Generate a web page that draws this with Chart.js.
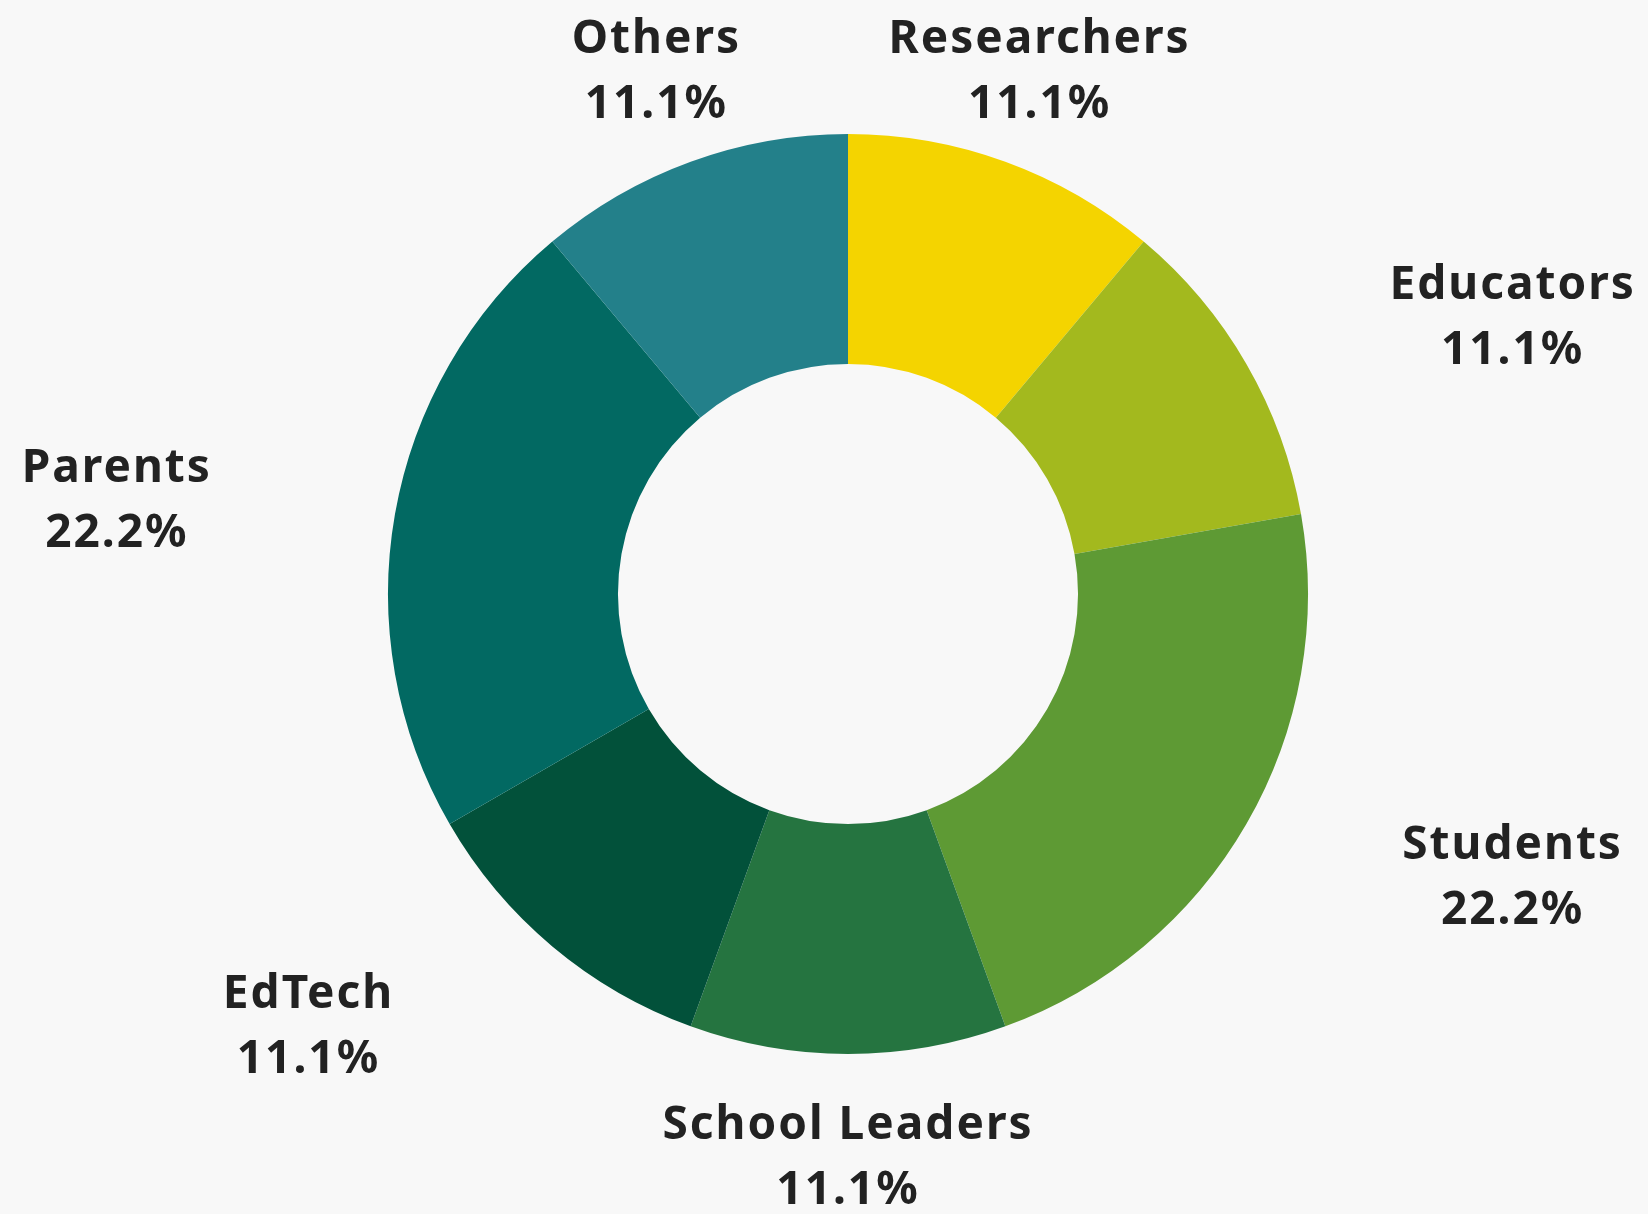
<!DOCTYPE html>
<html>
<head>
<meta charset="utf-8">
<script src="https://cdn.jsdelivr.net/npm/chart.js@4.4.1/dist/chart.umd.min.js"></script>
<style>
  html,body{margin:0;padding:0;background:#f8f8f8;}
  #wrap{width:1648px;height:1214px;}
</style>
</head>
<body>
<div id="wrap"><canvas id="c" width="1648" height="1214"></canvas></div>
<script>
// grupos y su peso (en unidades) -- el % se saca del total
const categories = ['Researchers','Educators','Students','School Leaders','EdTech','Parents','Others'];
const values = [1,1,2,1,1,2,1];
const colors = ['#f4d400','#a3b91e','#5e9a34','#257440','#02513a','#026962','#23808a'];

const labelFont = '700 46px "Noto Sans", "Open Sans", sans-serif';

// etiquetas por fuera: nombre + porcentaje, ubicadas a partir de cada arco
const outsideLabels = {
  id:'outsideLabels',
  afterDatasetsDraw(chart){
    const ctx = chart.ctx;
    const meta = chart.getDatasetMeta(0);
    const total = values.reduce((a,b)=>a+b,0);
    ctx.save();
    ctx.font = labelFont;
    ctx.letterSpacing = '2px';
    ctx.fillStyle = '#222222';
    ctx.textAlign = 'center';
    ctx.textBaseline = 'middle';
    meta.data.forEach((arc,i)=>{
      const mid = (arc.startAngle+arc.endAngle)/2;
      const R = arc.outerRadius;
      const ux = Math.cos(mid), uy = Math.sin(mid);
      let x = arc.x + ux*R*1.218;
      const y = arc.y + uy*R*1.218 + 4;
      if (Math.abs(ux) > 0.5) x += Math.sign(ux)*R*0.39; // los de los costados van más afuera
      const pct = (values[i]/total*100).toFixed(1)+'%';
      ctx.fillText(categories[i], x, y-32);
      ctx.fillText(pct, x, y+33);
    });
    ctx.restore();
  }
};

new Chart(document.getElementById('c').getContext('2d'),{
  type:'doughnut',
  data:{labels:categories,datasets:[{data:values,backgroundColor:colors,borderWidth:0,hoverOffset:0}]},
  options:{
    responsive:false,animation:false,cutout:'50%',
    layout:{padding:{top:134,bottom:160,left:388,right:340}},
    plugins:{legend:{display:false},tooltip:{enabled:false}}
  },
  plugins:[outsideLabels]
});
</script>
</body>
</html>
